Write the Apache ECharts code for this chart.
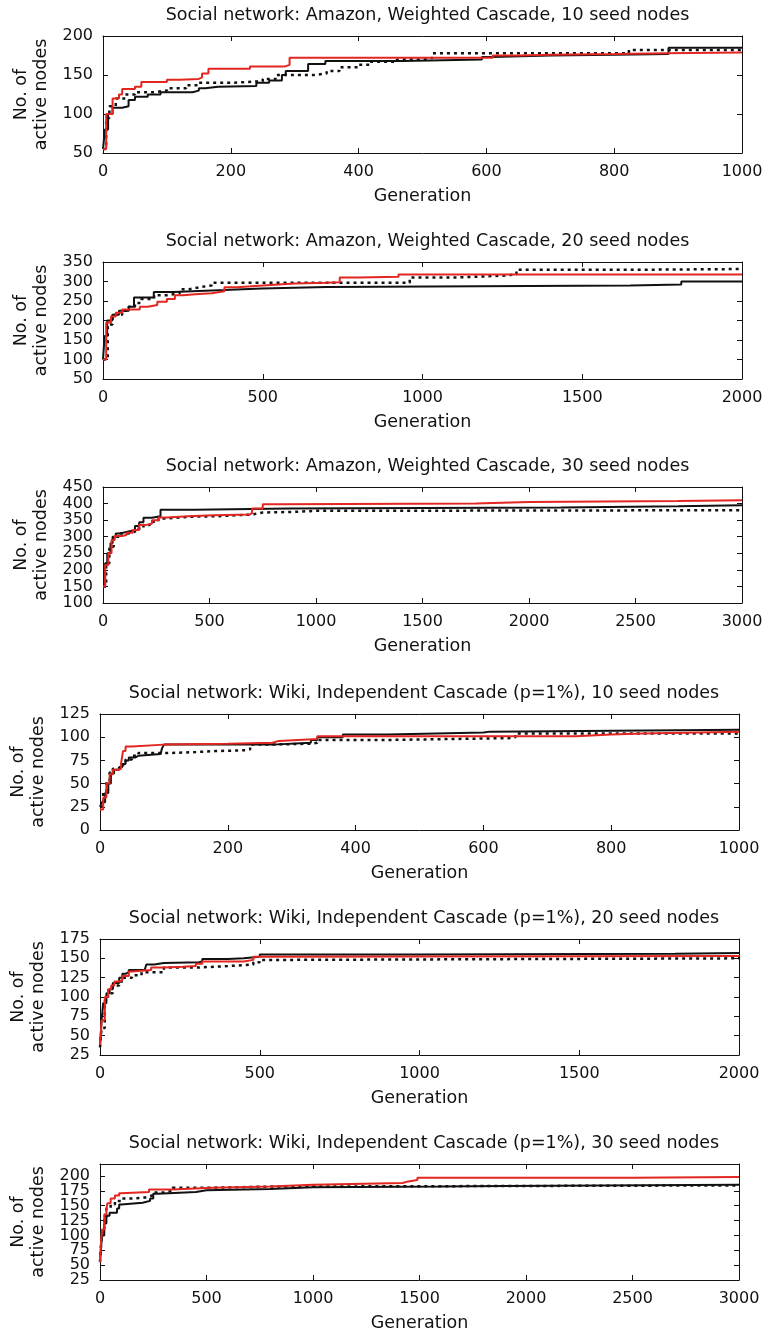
<!DOCTYPE html>
<html>
<head>
    <meta charset="utf-8">
    <title>Active nodes per generation</title>
    <script src="https://cdn.jsdelivr.net/npm/echarts@6/dist/echarts.min.js"></script>
    <style>
        body { margin: 0; background: #fff; }
    </style>
</head>
<body>
<div id="main" style="width: 771px;height:1333px"></div>
<script type="text/javascript">

    // panel titles
    var titles = [
        'Social network: Amazon, Weighted Cascade, 10 seed nodes',
        'Social network: Amazon, Weighted Cascade, 20 seed nodes',
        'Social network: Amazon, Weighted Cascade, 30 seed nodes',
        'Social network: Wiki, Independent Cascade (p=1%), 10 seed nodes',
        'Social network: Wiki, Independent Cascade (p=1%), 20 seed nodes',
        'Social network: Wiki, Independent Cascade (p=1%), 30 seed nodes'
    ];

    // axis ranges
    var xMax = [1000, 2000, 3000, 1000, 2000, 3000];
    var xStep = [200, 500, 500, 200, 500, 500];
    var yMin = [50, 50, 100, 0, 25, 25];
    var yMax = [200, 350, 450, 125, 175, 220];
    var yStep = [50, 50, 50, 25, 25, 25];

    // [generation, active nodes] -- step points
    var amazon10Solid = [[0,55],[3,80],[8,100],[15,108],[30,110],[40,118],[50,122],[70,125],[90,128],[140,130],[150,133],[160,135],[180,136],[240,140],[260,143],[280,150],[286,155],[321,164],[348,168],[470,170],[593,173],[609,175],[700,176],[800,177],[885,185],[1000,185]];
    var amazon10Dotted = [[0,55],[5,95],[10,110],[20,120],[35,125],[50,128],[80,130],[100,133],[130,137],[150,140],[200,142],[250,145],[270,150],[330,152],[350,155],[370,160],[400,163],[420,167],[460,170],[500,172],[516,178],[700,178],[823,182],[1000,182]];
    var amazon10Red = [[0,55],[5,100],[15,120],[25,125],[30,132],[50,135],[60,141],[100,144],[120,145],[150,147],[155,152],[165,158],[230,161],[285,163],[292,172],[610,175],[650,176],[700,177],[800,178],[880,179],[1000,179]];

    var amazon20Solid = [[0,100],[5,160],[13,200],[29,215],[50,225],[81,235],[97,259],[159,273],[221,278],[380,282],[497,286],[700,290],[1650,292],[1810,300],[2000,300]];
    var amazon20Dotted = [[0,100],[15,190],[30,215],[60,225],[80,235],[100,245],[120,255],[160,265],[200,270],[240,280],[270,285],[300,290],[340,297],[940,297],[960,310],[1100,315],[1250,318],[1294,330],[1660,332],[2000,332]];
    var amazon20Red = [[0,100],[10,195],[25,210],[40,220],[60,228],[115,235],[140,240],[170,248],[200,255],[225,265],[250,268],[300,270],[340,275],[380,285],[420,290],[500,295],[600,297],[700,298],[741,310],[800,312],[925,318],[2000,318]];

    var amazon30Solid = [[0,150],[10,220],[20,250],[35,280],[45,300],[60,310],[80,316],[120,320],[150,332],[170,344],[190,357],[230,362],[270,381],[430,385],[870,388],[2150,392],[2700,395],[3000,397]];
    var amazon30Dotted = [[0,150],[15,220],[30,270],[50,300],[80,310],[120,315],[150,325],[190,335],[220,345],[260,355],[300,360],[400,362],[540,367],[700,373],[750,375],[900,378],[1000,380],[3000,382]];
    var amazon30Red = [[0,150],[10,215],[25,250],[40,290],[55,302],[90,305],[110,312],[140,320],[170,335],[200,340],[230,350],[260,358],[300,362],[400,365],[520,367],[690,372],[700,385],[750,398],[830,400],[1750,405],[2000,408],[2700,410],[3000,412]];

    var wiki10Solid = [[0,25],[3,30],[8,40],[13,50],[17,61],[22,65],[30,68],[35,71],[40,75],[45,78],[55,80],[60,82],[95,84],[97,88],[100,92],[270,94],[330,97],[340,100],[380,103],[450,105],[600,106],[610,108],[1000,108]];
    var wiki10Dotted = [[0,25],[5,40],[10,52],[15,62],[20,66],[30,70],[40,76],[50,80],[60,83],[110,84],[150,85],[180,86],[228,87],[235,92],[260,93],[330,94],[340,97],[450,99],[640,100],[650,104],[800,104],[1000,105]];
    var wiki10Red = [[0,22],[5,35],[10,50],[15,60],[20,65],[28,66],[33,72],[36,85],[40,90],[50,92],[100,93],[200,94],[270,96],[280,98],[340,101],[740,101],[745,103],[800,104],[850,106],[1000,106]];

    var wiki20Solid = [[0,35],[5,70],[10,92],[20,105],[30,110],[40,118],[60,125],[70,130],[80,132],[90,135],[140,136],[145,142],[170,144],[200,145],[310,146],[320,149],[400,150],[450,152],[500,155],[1000,156],[1800,157],[2000,157]];
    var wiki20Dotted = [[0,35],[5,60],[15,95],[25,105],[40,115],[60,120],[75,125],[100,128],[130,132],[200,138],[300,140],[400,142],[480,145],[500,148],[600,150],[2000,151]];
    var wiki20Red = [[0,38],[5,70],[15,100],[25,110],[35,115],[45,120],[60,122],[70,127],[90,133],[100,135],[160,138],[200,139],[260,140],[300,143],[320,146],[450,148],[480,152],[500,153],[2000,154]];

    var wiki30Solid = [[0,55],[5,80],[10,100],[20,120],[30,133],[45,138],[80,145],[90,152],[100,155],[200,158],[235,162],[250,170],[270,173],[450,176],[500,178],[800,181],[1000,182],[1600,183],[1900,185],[3000,185]];
    var wiki30Dotted = [[0,55],[5,85],[10,105],[20,130],[30,145],[50,152],[70,158],[100,162],[150,163],[200,165],[230,168],[250,172],[300,175],[340,180],[500,182],[800,184],[3000,185]];
    var wiki30Red = [[0,55],[5,90],[10,110],[20,135],[30,145],[35,154],[50,162],[70,167],[90,171],[100,173],[230,177],[340,180],[527,182],[800,185],[1000,188],[1420,190],[1440,193],[1490,197],[2500,198],[3000,198]];

    var solidSets = [amazon10Solid, amazon20Solid, amazon30Solid, wiki10Solid, wiki20Solid, wiki30Solid];
    var dottedSets = [amazon10Dotted, amazon20Dotted, amazon30Dotted, wiki10Dotted, wiki20Dotted, wiki30Dotted];
    var redSets = [amazon10Red, amazon20Red, amazon30Red, wiki10Red, wiki20Red, wiki30Red];

    // layout of the six panels (px)
    var gridTop = [36, 262, 487, 714, 939, 1164];
    var gridHeight = [117, 117, 116, 116, 116, 117];
    var gridLeft = [103, 103, 103, 99, 99, 99];
    var gridRight = [29, 29, 29, 32, 32, 32];

    var font = 'DejaVu Sans';
    var ink = '#111';

    var myChart = echarts.init(document.getElementById('main'));

    var title = [], grid = [], xAxis = [], yAxis = [], series = [];

    function plainLabel(step) {
        return function (v) {
            return v % step === 0 ? String(v) : '';
        };
    }

    for (var i = 0; i < 6; i++) {
        var center = gridLeft[i] + (771 - gridLeft[i] - gridRight[i]) / 2;
        title.push({
            text: titles[i],
            left: center,
            top: gridTop[i] - 35,
            textAlign: 'center',
            textStyle: { fontFamily: font, fontSize: 17.5, fontWeight: 'normal', color: ink }
        });
        grid.push({ left: gridLeft[i], right: gridRight[i], top: gridTop[i], height: gridHeight[i] });

        var tick = { show: true, inside: true, length: 5, lineStyle: { color: ink } };
        var line = { show: true, onZero: false, lineStyle: { color: ink, width: 1 } };

        // bottom / top x axes
        xAxis.push({
            type: 'value', gridIndex: i, min: 0, max: xMax[i], interval: xStep[i],
            name: 'Generation', nameLocation: 'middle', nameGap: 34,
            nameTextStyle: { fontFamily: font, fontSize: 17.5, color: ink },
            axisLine: line, axisTick: tick, splitLine: { show: false },
            axisLabel: { fontFamily: font, fontSize: 16, color: ink, margin: 11, formatter: plainLabel(xStep[i]) }
        });
        xAxis.push({
            type: 'value', gridIndex: i, position: 'top', min: 0, max: xMax[i], interval: xStep[i],
            axisLine: line, axisTick: tick, splitLine: { show: false }, axisLabel: { show: false }
        });

        // left / right y axes (last panel: min label drawn by a helper axis, labels are tight)
        yAxis.push({
            type: 'value', gridIndex: i, min: yMin[i], max: yMax[i], interval: yStep[i],
            name: 'No. of\nactive nodes', nameLocation: 'middle', nameRotate: 90, nameGap: 52,
            nameTextStyle: { fontFamily: font, fontSize: 17.5, color: ink, lineHeight: 20 },
            axisLine: line, axisTick: tick, splitLine: { show: false },
            axisLabel: {
                fontFamily: font, fontSize: 16, color: ink, margin: 10,
                showMinLabel: i === 5 ? false : true, hideOverlap: false,
                formatter: plainLabel(yStep[i])
            }
        });
        yAxis.push({
            type: 'value', gridIndex: i, position: 'right', min: yMin[i], max: yMax[i], interval: yStep[i],
            axisLine: line, axisTick: tick, splitLine: { show: false }, axisLabel: { show: false }
        });

        series.push({
            type: 'line', step: 'end', xAxisIndex: 2 * i, yAxisIndex: 2 * i,
            data: solidSets[i], showSymbol: false,
            lineStyle: { color: ink, width: 2 }
        });
        series.push({
            type: 'line', step: 'end', xAxisIndex: 2 * i, yAxisIndex: 2 * i,
            data: dottedSets[i], showSymbol: false,
            lineStyle: { color: ink, width: 2.5, type: [3, 4] }
        });
        series.push({
            type: 'line', step: 'end', xAxisIndex: 2 * i, yAxisIndex: 2 * i,
            data: redSets[i], showSymbol: false,
            lineStyle: { color: '#e3261f', width: 2 }
        });
    }

    // helper axis for the "25" label of the last panel
    yAxis.push({
        type: 'value', gridIndex: 5, position: 'left', min: yMin[5], max: yMax[5], interval: yStep[5],
        axisLine: { show: false }, axisTick: { show: false }, splitLine: { show: false },
        axisLabel: {
            fontFamily: font, fontSize: 16, color: ink, margin: 10,
            showMinLabel: true, showMaxLabel: false,
            formatter: function (v) { return v === yMin[5] ? String(v) : ''; }
        }
    });

    myChart.setOption({
        animation: false,
        backgroundColor: '#fff',
        title: title,
        grid: grid,
        xAxis: xAxis,
        yAxis: yAxis,
        series: series
    });
</script>
</body>
</html>
